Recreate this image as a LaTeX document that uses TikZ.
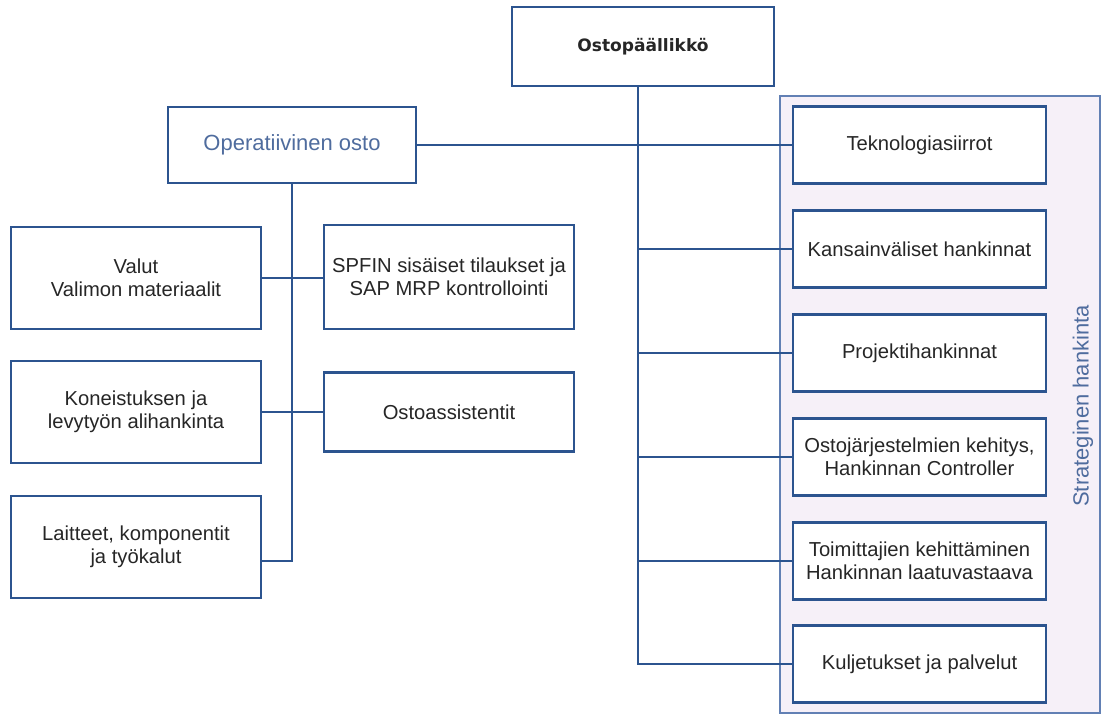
\documentclass[tikz,border=0pt]{standalone}
\usepackage{fontspec}
\setmainfont{Liberation Sans}
\newfontfamily\titlefont{DejaVu Sans}
\usepackage{tikz}
\definecolor{linjasin}{RGB}{44,84,143}
\definecolor{tekstiharmaa}{RGB}{38,38,38}
\definecolor{otsikkosin}{RGB}{79,108,158}
\definecolor{kehyssin}{RGB}{98,128,180}
\definecolor{kehystausta}{RGB}{246,240,248}

\begin{document}
\begin{tikzpicture}[x=0.02cm,y=-0.02cm]
                        \tikzstyle{laatikko}=[draw=linjasin,line width=1.5pt,fill=white,align=center,inner sep=0pt,
                            text=tekstiharmaa,font=\fontsize{11.5}{13}\selectfont]
                        \tikzstyle{vasen}=[laatikko,minimum width=5cm,minimum height=2.04cm]
                        \tikzstyle{keski}=[laatikko,minimum width=5cm]
                        \tikzstyle{oikea}=[laatikko,minimum width=5.06cm,minimum height=1.54cm]
                        \tikzstyle{yhteys}=[draw=linjasin,line width=1.5pt]
                        \useasboundingbox (0,0) rectangle (1102,715);
                        \fill[kehystausta,draw=kehyssin,line width=0.8pt] (780,96) rectangle (1100,713);
                        \node[rotate=90,text=otsikkosin,font=\fontsize{12.5}{15}\selectfont] (strat) at (1083,406) {Strateginen hankinta};
                        \node[laatikko,minimum width=5.24cm,minimum height=1.58cm,font=\titlefont\bfseries\fontsize{9.7}{12}\selectfont] (paallikko) at (643,46.5) {Ostopäällikkö};
                        \node[laatikko,minimum width=4.96cm,minimum height=1.52cm,text=otsikkosin,font=\fontsize{12.5}{15}\selectfont] (operatiivinen) at (292,145) {Operatiivinen osto};
                        \node[oikea] (tekno) at (919.5,145) {Teknologiasiirrot};
                        \node[oikea] (kansainv) at (919.5,249) {Kansainväliset hankinnat};
                        \node[oikea] (projekti) at (919.5,353) {Projektihankinnat};
                        \node[oikea] (jarjestelmat) at (919.5,457) {Ostojärjestelmien kehitys,\\Hankinnan Controller};
                        \node[oikea] (toimittajat) at (919.5,561) {Toimittajien kehittäminen\\Hankinnan laatuvastaava};
                        \node[oikea] (kuljetus) at (919.5,664) {Kuljetukset ja palvelut};
                        \node[vasen] (valut) at (136,278) {Valut\\Valimon materiaalit};
                        \node[vasen] (koneistus) at (136,412) {Koneistuksen ja\\levytyön alihankinta};
                        \node[vasen] (laitteet) at (136,547) {Laitteet, komponentit\\ja työkalut};
                        \node[keski,minimum height=2.08cm] (spfin) at (449,277) {SPFIN sisäiset tilaukset ja\\SAP MRP kontrollointi};
                        \node[keski,minimum height=1.58cm] (assistentit) at (449,412) {Ostoassistentit};
                        \coordinate (runko) at (638,664);
                        \coordinate (laitliitos) at (laitteet.east |- 0,561);
                        \draw[yhteys] (paallikko.south -| runko) -- (runko) -- (kuljetus.west);
                        \draw[yhteys] (operatiivinen.east) -- (tekno.west);
                        \foreach \kohde in {kansainv,projekti,jarjestelmat,toimittajat}
                            \draw[yhteys] (runko |- \kohde.west) -- (\kohde.west);
                        \draw[yhteys] (operatiivinen.south) -- (operatiivinen.south |- laitliitos) -- (laitliitos);
                        \draw[yhteys] (valut.east) -- (valut.east -| spfin.west);
                        \draw[yhteys] (koneistus.east) -- (assistentit.west);
                    \end{tikzpicture}
\end{document}
